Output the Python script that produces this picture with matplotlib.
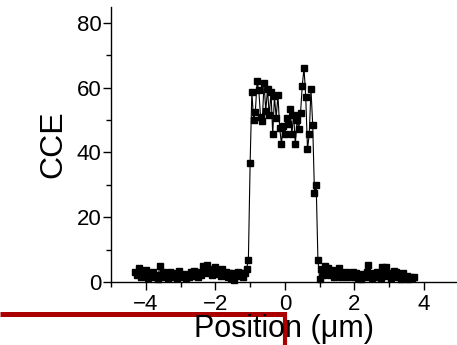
import numpy as np
import matplotlib
matplotlib.use("Agg")
import matplotlib.pyplot as plt
from matplotlib.lines import Line2D
from matplotlib.ticker import MultipleLocator

plt.rcParams['font.family'] = ['Liberation Sans', 'DejaVu Sans']

# scan positions (um) and charge collection efficiency
position = [
    -4.30, -4.25, -4.20, -4.15, -4.10, -4.05, -4.00, -3.95, -3.90, -3.85,
    -3.80, -3.75, -3.70, -3.65, -3.60, -3.55, -3.50, -3.45, -3.40, -3.35,
    -3.30, -3.25, -3.20, -3.15, -3.10, -3.05, -3.00, -2.95, -2.90, -2.85,
    -2.80, -2.75, -2.70, -2.65, -2.60, -2.55, -2.50, -2.45, -2.40, -2.35,
    -2.30, -2.25, -2.20, -2.15, -2.10, -2.05, -2.00, -1.95, -1.90, -1.85,
    -1.80, -1.75, -1.70, -1.65, -1.60, -1.55, -1.50, -1.45, -1.40, -1.35,
    -1.30, -1.25, -1.20, -1.15, -1.10, -1.05,
    -1.00, -0.95, -0.90, -0.85, -0.80, -0.75, -0.70, -0.65, -0.60, -0.55,
    -0.50, -0.45, -0.40, -0.35, -0.30, -0.25, -0.20, -0.15, -0.10, -0.05,
    0.00, 0.05, 0.10, 0.15, 0.20, 0.25, 0.30, 0.35, 0.40, 0.45,
    0.50, 0.55, 0.60, 0.65, 0.70, 0.75, 0.80, 0.85, 0.90, 0.95, 1.00,
    1.05, 1.10, 1.15, 1.20, 1.25, 1.30, 1.35, 1.40, 1.45, 1.50,
    1.55, 1.60, 1.65, 1.70, 1.75, 1.80, 1.85, 1.90, 1.95, 2.00,
    2.05, 2.10, 2.15, 2.20, 2.25, 2.30, 2.35, 2.40, 2.45, 2.50,
    2.55, 2.60, 2.65, 2.70, 2.75, 2.80, 2.85, 2.90, 2.95, 3.00,
    3.05, 3.10, 3.15, 3.20, 3.25, 3.30, 3.35, 3.40, 3.45, 3.50,
    3.55, 3.60, 3.65, 3.70,
]
cce = [
    3.1, 2.0, 4.3, 1.5, 3.5, 2.4, 3.8, 1.2, 2.6, 1.8,
    3.0, 1.4, 2.2, 1.0, 5.0, 2.0, 3.2, 1.6, 2.8, 1.3,
    3.0, 2.2, 1.5, 2.6, 1.1, 3.3, 2.0, 1.4, 2.5, 1.2,
    2.1, 1.6, 3.0, 1.8, 3.5, 2.4, 1.5, 2.9, 2.0, 4.8,
    3.2, 5.2, 2.6, 3.6, 2.0, 4.0, 4.6, 2.4, 3.4, 1.8,
    4.1, 2.2, 3.0, 1.5, 2.6, 1.2, 2.8, 0.6, 2.2, 3.0,
    1.8, 2.6, 1.5, 2.8, 4.1, 6.9,
    36.7, 58.8, 50.0, 52.5, 62.0, 59.2, 51.0, 49.6, 61.6, 52.8,
    59.6, 51.5, 58.6, 45.6, 57.4, 50.7, 57.8, 47.6, 42.7, 48.3,
    45.6, 50.7, 48.7, 53.3, 45.6, 51.7, 42.6, 50.0, 47.4, 52.2,
    60.7, 66.1, 57.0, 41.0, 45.6, 59.6, 48.5, 27.6, 30.0, 6.7, 1.0,
    4.0, 2.2, 5.0, 3.0, 4.4, 2.0, 3.6, 1.6, 3.0, 2.2,
    4.2, 1.4, 2.8, 2.0, 3.2, 1.5, 2.6, 1.8, 2.9, 1.4,
    2.6, 1.2, 2.2, 1.0, 2.5, 1.6, 3.0, 5.1, 2.0, 1.2,
    2.8, 1.5, 3.0, 2.2, 1.3, 4.7, 2.4, 4.6, 1.8, 2.6,
    1.2, 2.0, 3.5, 3.0, 1.4, 2.4, 1.0, 2.6, 1.2, 1.8,
    0.8, 1.6, 1.2, 1.5,
]
x_ticks = [-4, -2, 0, 2, 4]
y_ticks = [0, 20, 40, 60, 80]

fig = plt.figure(figsize=(4.57, 3.45), dpi=100)
ax = fig.add_axes([0.243, 0.183, 0.757, 0.797])

ax.plot(position, cce, color='black', lw=0.8, marker='s', ms=5,
        markerfacecolor='black', markeredgecolor='black', clip_on=False)

ax.set_xlim(-5, 4.95)
ax.set_ylim(0, 85)
ax.set_xticks(x_ticks)
ax.set_yticks(y_ticks)
ax.xaxis.set_minor_locator(MultipleLocator(1))
ax.yaxis.set_minor_locator(MultipleLocator(10))
ax.tick_params(which='major', direction='out', length=6, width=1, labelsize=16)
ax.tick_params(which='minor', direction='out', length=3.5, width=1)
ax.tick_params(axis='x', pad=3)
ax.tick_params(axis='y', pad=1)

for side in ['top', 'right']:
    ax.spines[side].set_visible(False)
for side in ['left', 'bottom']:
    ax.spines[side].set_linewidth(1)

ax.set_ylabel('CCE', fontsize=23, labelpad=6)
ax.set_xlabel('Position (\u03bcm)', fontsize=22, labelpad=-1)

# red marker lines at the bottom edge
fig.add_artist(Line2D([0, 285 / 457], [1 - 314 / 345, 1 - 314 / 345],
                      color='#aa0000', lw=3.6, solid_capstyle='butt', zorder=0))
fig.add_artist(Line2D([284.5 / 457, 284.5 / 457], [1 - 312 / 345, 0],
                      color='#aa0000', lw=3.0, solid_capstyle='butt', zorder=0))

fig.savefig('out.png', dpi=100)
